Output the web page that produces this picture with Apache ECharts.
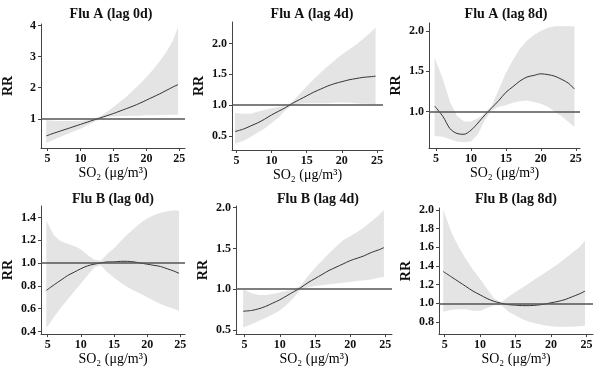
<!DOCTYPE html>
<html><head><meta charset="utf-8">
<script src="https://cdn.jsdelivr.net/npm/echarts@6/dist/echarts.min.js"></script>
<style>html,body{margin:0;padding:0;background:#fff}#c{width:600px;height:367px}</style>
</head><body><div id="c"></div>
<script>
// SO2 concentration grid (µg/m3)
const xs = [4.8,6,7,8,9,10,11,12,13,14,15,16,17,18,19,20,21,22,23,24,24.8];
const xTicks = [5,10,15,20,25];

// Flu A lag 0d
const a0Fit = [0.45,0.54,0.61,0.68,0.75,0.82,0.89,0.96,1.03,1.10,1.17,1.25,1.33,1.41,1.50,1.60,1.70,1.80,1.91,2.02,2.10];
const a0Lo  = [0.22,0.33,0.42,0.51,0.60,0.68,0.78,0.90,1.00,1.05,1.07,1.08,1.09,1.10,1.10,1.11,1.11,1.12,1.12,1.13,1.13];
const a0Hi  = [0.95,0.94,0.93,0.93,0.93,0.94,0.96,0.99,1.08,1.22,1.38,1.55,1.72,1.92,2.12,2.34,2.58,2.84,3.14,3.50,3.95];
const a0Ticks = [1,2,3,4];
// Flu A lag 4d
const a4Fit = [0.57,0.61,0.66,0.71,0.77,0.84,0.90,0.96,1.03,1.09,1.15,1.21,1.26,1.31,1.35,1.38,1.41,1.43,1.45,1.46,1.47];
const a4Lo  = [0.37,0.42,0.48,0.55,0.62,0.71,0.80,0.92,1.00,1.02,1.03,1.03,1.03,1.03,1.04,1.04,1.04,1.03,1.02,1.02,1.01];
const a4Hi  = [0.87,0.86,0.86,0.89,0.92,0.95,0.97,0.99,1.06,1.18,1.30,1.42,1.53,1.63,1.73,1.82,1.90,1.98,2.07,2.17,2.26];
const a4Ticks = [0.5,1.0,1.5,2.0];
// Flu A lag 8d
const a8Fit = [1.07,0.94,0.79,0.73,0.72,0.77,0.86,0.96,1.05,1.14,1.24,1.31,1.38,1.43,1.45,1.47,1.46,1.44,1.40,1.35,1.28];
const a8Lo  = [0.70,0.69,0.66,0.63,0.62,0.63,0.72,0.90,1.02,1.06,1.08,1.11,1.13,1.14,1.12,1.10,1.06,1.00,0.94,0.87,0.81];
const a8Hi  = [1.67,1.40,1.12,0.95,0.88,0.88,0.92,0.98,1.08,1.28,1.48,1.64,1.78,1.88,1.95,2.00,2.04,2.06,2.06,2.06,2.06];
const a8Ticks = [1.0,1.5,2.0];
// Flu B lag 0d
const b0Fit = [0.76,0.81,0.85,0.89,0.92,0.95,0.975,0.99,1.00,1.01,1.01,1.015,1.015,1.01,1.00,0.99,0.98,0.97,0.95,0.93,0.91];
const b0Lo  = [0.43,0.53,0.61,0.68,0.75,0.82,0.89,0.96,0.98,0.92,0.87,0.83,0.79,0.76,0.73,0.70,0.67,0.64,0.62,0.60,0.58];
const b0Hi  = [1.37,1.24,1.19,1.17,1.15,1.12,1.07,1.03,1.02,1.08,1.13,1.19,1.25,1.30,1.35,1.39,1.42,1.44,1.455,1.46,1.46];
const b0Ticks = [0.4,0.6,0.8,1.0,1.2,1.4];
// Flu B lag 4d
const b4Fit = [0.73,0.74,0.76,0.79,0.83,0.87,0.92,0.97,1.02,1.08,1.13,1.18,1.23,1.27,1.31,1.35,1.38,1.41,1.45,1.48,1.51];
const b4Lo  = [0.53,0.57,0.61,0.65,0.69,0.74,0.81,0.90,1.00,1.02,1.04,1.05,1.06,1.07,1.08,1.09,1.10,1.11,1.12,1.14,1.15];
const b4Hi  = [1.00,0.95,0.93,0.93,0.94,0.96,0.98,1.00,1.05,1.16,1.26,1.35,1.44,1.52,1.60,1.65,1.70,1.76,1.83,1.90,1.97];
const b4Ticks = [0.5,1.0,1.5,2.0];
// Flu B lag 8d
const b8Fit = [1.34,1.28,1.23,1.18,1.13,1.09,1.05,1.02,1.00,0.985,0.98,0.975,0.975,0.98,0.99,1.005,1.02,1.04,1.07,1.10,1.13];
const b8Lo  = [0.91,0.93,0.935,0.935,0.92,0.92,0.95,0.98,0.98,0.91,0.87,0.83,0.80,0.78,0.765,0.755,0.75,0.75,0.75,0.755,0.76];
const b8Hi  = [2.00,1.75,1.60,1.47,1.36,1.26,1.15,1.05,1.01,1.07,1.12,1.17,1.22,1.27,1.32,1.37,1.42,1.48,1.54,1.60,1.67];
const b8Ticks = [0.8,1.0,1.2,1.4,1.6,1.8,2.0];

const titles = ['Flu A (lag 0d)','Flu A (lag 4d)','Flu A (lag 8d)','Flu B (lag 0d)','Flu B (lag 4d)','Flu B (lag 8d)'];
const fits = [a0Fit,a4Fit,a8Fit,b0Fit,b4Fit,b8Fit];
const los = [a0Lo,a4Lo,a8Lo,b0Lo,b4Lo,b8Lo];
const his = [a0Hi,a4Hi,a8Hi,b0Hi,b4Hi,b8Hi];
const yTicks = [a0Ticks,a4Ticks,a8Ticks,b0Ticks,b4Ticks,b8Ticks];

// layout (pixels) and axis extents
const grids = [
  {left:32, top:24, width:153, height:124},
  {left:232, top:22, width:151, height:128},
  {left:429, top:23, width:151, height:125},
  {left:32, top:206, width:153, height:131},
  {left:236, top:206, width:156, height:131},
  {left:439, top:208, width:154, height:129}
];
const xRange = [[4.0,25.86],[4.37,25.86],[4.0,25.6],[4.0,25.7],[3.78,25.95],[4.2,25.93]];
const yRange = [[0.06,4.05],[0.27,2.35],[0.55,2.10],[0.377,1.5],[0.45,2.02],[0.67,2.02]];
const titlePos = [[106,2],[307,2],[501,2],[108,187],[313,187],[511,187]];
const yDecimals = [0,1,1,1,1,1];

const FONT = 'Liberation Serif';
const axisColor = '#444';
const option = {
  animation:false,
  backgroundColor:'#fff',
  title: titles.map((t,i)=>({text:t,left:titlePos[i][0],top:titlePos[i][1],textAlign:'center',
    textStyle:{fontFamily:FONT,fontSize:14,fontWeight:'bold',color:'#111'}})),
  grid: grids.map(g=>Object.assign({containLabel:false},g)),
  xAxis: grids.map((g,i)=>({type:'value',gridIndex:i,min:xRange[i][0],max:xRange[i][1],
    name:'SO\u2082 (\u03bcg/m\u00b3)',nameLocation:'middle',nameGap:15,
    nameTextStyle:{fontFamily:FONT,fontSize:14,color:'#000'},
    axisLine:{show:true,lineStyle:{color:axisColor,width:1}},
    axisTick:{show:true,length:3,customValues:xTicks,lineStyle:{color:axisColor}},
    axisLabel:{customValues:xTicks,fontFamily:FONT,fontSize:12,fontWeight:'bold',color:'#111',margin:5},
    splitLine:{show:false}})),
  yAxis: grids.map((g,i)=>({type:'value',gridIndex:i,min:yRange[i][0],max:yRange[i][1],
    name:'RR',nameLocation:'middle',nameGap:26,
    nameTextStyle:{fontFamily:FONT,fontSize:14,fontWeight:'bold',color:'#111'},
    axisLine:{show:true,lineStyle:{color:axisColor,width:1}},
    axisTick:{show:true,length:3,customValues:yTicks[i],lineStyle:{color:axisColor}},
    axisLabel:{customValues:yTicks[i],fontFamily:FONT,fontSize:12,fontWeight:'bold',color:'#111',margin:5,
      formatter:v=>Number(v).toFixed(yDecimals[i])},
    splitLine:{show:false}})),
  series: []
};
for (let i=0;i<6;i++){
  const fit = xs.map((x,k)=>[x,fits[i][k]]);
  option.series.push({type:'custom',xAxisIndex:i,yAxisIndex:i,data:[[xs[0],los[i][0]]],silent:true,z:1,
    renderItem:(params,api)=>{
      const pts=[];
      for(let k=0;k<xs.length;k++) pts.push(api.coord([xs[k],his[i][k]]));
      for(let k=xs.length-1;k>=0;k--) pts.push(api.coord([xs[k],los[i][k]]));
      return {type:'polygon',shape:{points:pts},style:{fill:'#e4e4e4',stroke:null}};
    }});
  option.series.push({type:'line',xAxisIndex:i,yAxisIndex:i,data:fit,symbol:'none',smooth:0.3,
    lineStyle:{color:'#333',width:1},z:3,
    markLine:{silent:true,symbol:'none',label:{show:false},
      lineStyle:{color:'#555',width:1.5,type:'solid'},data:[{yAxis:1}]}});
}
const chart = echarts.init(document.getElementById('c'),null,{renderer:'canvas'});
chart.setOption(option);
</script></body></html>
